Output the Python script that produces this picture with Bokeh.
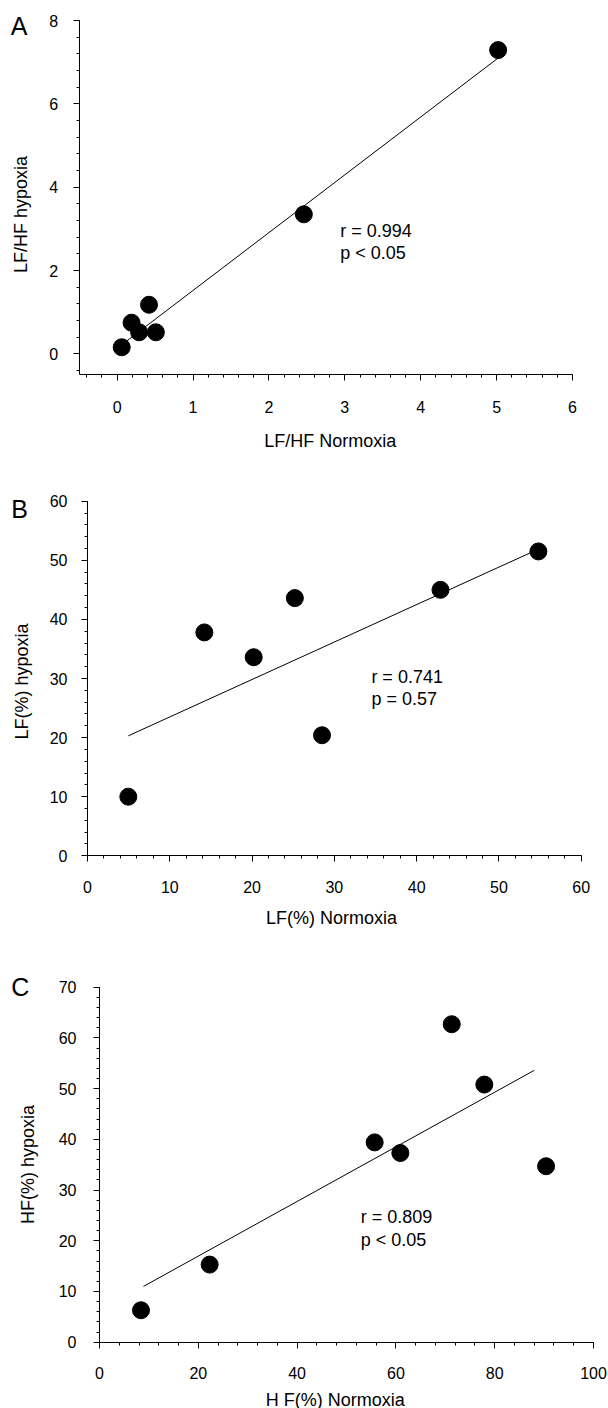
import numpy as np
from bokeh.plotting import figure
from bokeh.models import Range1d, FixedTicker, Label
from bokeh.layouts import column
from bokeh.embed import file_html
from bokeh.resources import INLINE

# ---------------- data ----------------
# Panel A: LF/HF
a_norm = [0.06, 0.19, 0.29, 0.42, 0.51, 2.46, 5.02]
a_hyp = [0.16, 0.75, 0.52, 1.18, 0.52, 3.35, 7.29]
a_fit_x = [0.06, 5.02]
a_fit_y = [0.22, 7.10]
a_stats = ["r = 0.994", "p < 0.05"]

# Panel B: LF(%)
b_norm = [4.96, 14.2, 20.2, 25.2, 28.5, 42.9, 54.8]
b_hyp = [10.0, 37.8, 33.6, 43.6, 20.4, 45.0, 51.5]
b_fit_x = [4.96, 54.5]
b_fit_y = [20.3, 51.7]
b_stats = ["r = 0.741", "p = 0.57"]

# Panel C: HF(%)
c_norm = [8.4, 22.3, 55.7, 60.9, 71.3, 77.9, 90.4]
c_hyp = [6.3, 15.3, 39.4, 37.3, 62.7, 50.8, 34.7]
c_fit_x = [8.9, 88.0]
c_fit_y = [11.0, 53.6]
c_stats = ["r = 0.809", "p < 0.05"]

a_xticks = [0, 1, 2, 3, 4, 5, 6]
a_yticks = [0, 2, 4, 6, 8]
b_xticks = [0, 10, 20, 30, 40, 50, 60]
b_yticks = [0, 10, 20, 30, 40, 50, 60]
c_xticks = [0, 20, 40, 60, 80, 100]
c_yticks = [0, 10, 20, 30, 40, 50, 60, 70]

FONT = "Liberation Sans"
W = 608


class Panel:
    """A figure whose frame fills the canvas; axes are pinned with fixed_location."""

    def __init__(self, top, height, xax, yax, xt, yt, xminor, yminor, xstand, ystand):
        # xax = (v0, v1, px0, px1) ; yax = (vtop, vbot, pytop, pybot)  (page pixels)
        v0, v1, px0, px1 = xax
        kx = (v1 - v0) / (px1 - px0)
        xs, xe = v0 - px0 * kx, v1 + (W - px1) * kx
        vt, vb, pyt, pyb = yax
        fyt, fyb = pyt - top, pyb - top
        ky = (vt - vb) / (fyb - fyt)
        ye, ys = vt + fyt * ky, vb - (height - fyb) * ky
        self.top, self.kx, self.ky, self.xs, self.ye = top, kx, ky, xs, ye
        p = figure(width=W, height=height, output_backend="svg", toolbar_location=None,
                   title=None, x_range=Range1d(xs, xe), y_range=Range1d(ys, ye),
                   min_border=0, min_border_left=0, min_border_right=0,
                   min_border_top=0, min_border_bottom=0)
        p.xgrid.visible = False
        p.ygrid.visible = False
        p.outline_line_color = None
        p.background_fill_color = "white"
        p.border_fill_color = "white"
        p.xaxis.ticker = FixedTicker(ticks=xt, minor_ticks=list(xminor))
        p.yaxis.ticker = FixedTicker(ticks=yt, minor_ticks=list(yminor))
        p.xaxis.fixed_location = vb
        p.yaxis.fixed_location = v0
        p.xaxis.bounds = (v0, v1)
        p.yaxis.bounds = (vb, vt)
        for ax in (p.xaxis[0], p.yaxis[0]):
            ax.axis_line_color = "black"
            ax.axis_line_width = 1
            ax.major_tick_line_color = "black"
            ax.minor_tick_line_color = "black"
            ax.major_tick_out = 6
            ax.major_tick_in = 0
            ax.minor_tick_out = 3
            ax.minor_tick_in = 0
            ax.major_label_text_font = FONT
            ax.major_label_text_font_size = "16px"
            ax.major_label_text_color = "black"
        p.xaxis.major_label_standoff = xstand
        p.yaxis.major_label_standoff = ystand
        self.p = p

    def text(self, px, py, text, size, angle=0.0):
        x = self.xs + px * self.kx
        y = self.ye - (py - self.top) * self.ky
        self.p.add_layout(Label(x=x, y=y, text=text, text_font=FONT, text_font_size=size,
                                text_color="black", text_align="center",
                                text_baseline="middle", angle=angle))

    def stats(self, x, ys, texts):
        for yv, t in zip(ys, texts):
            self.p.add_layout(Label(x=x, y=yv, text=t, text_font=FONT, text_font_size="18px",
                                    text_color="black", text_align="left",
                                    text_baseline="middle"))

    def draw(self, xs, ys, fx, fy):
        self.p.line(fx, fy, line_color="black", line_width=1)
        self.p.scatter(xs, ys, size=17, marker="circle", fill_color="black",
                       line_color="black")


# ---------- Panel A ----------
topA, hA = 0, 478
A = Panel(topA, hA, (-0.5, 6, 78.7, 572), (8, -0.5, 20, 374.3), a_xticks, a_yticks,
          np.arange(-0.4, 6.001, 0.2), np.arange(-0.4, 8.001, 0.4), 20, 15)
A.draw(a_norm, a_hyp, a_fit_x, a_fit_y)
A.stats(2.94, [2.96, 2.42], a_stats)
A.text(18.5, 25, "A", "25px")
A.text(20, 214, "LF/HF hypoxia", "18px", angle=np.pi / 2)
A.text(329.7, 440.5, "LF/HF Normoxia", "18px")

# ---------- Panel B ----------
topB, hB = 478, 468
B = Panel(topB, hB, (0, 60, 87, 580.7), (60, 0, 500.7, 855.3), b_xticks, b_yticks,
          np.arange(0, 60.001, 2), np.arange(0, 60.001, 2), 19, 14)
B.draw(b_norm, b_hyp, b_fit_x, b_fit_y)
B.stats(34.5, [30.3, 26.6], b_stats)
B.text(19, 508, "B", "25px")
B.text(21, 681, "LF(%) hypoxia", "18px", angle=np.pi / 2)
B.text(331, 917.5, "LF(%) Normoxia", "18px")

# ---------- Panel C ----------
topC, hC = 946, 462
C = Panel(topC, hC, (0, 100, 99, 593), (70, 0, 986.7, 1341.7), c_xticks, c_yticks,
          np.arange(0, 100.001, 4), np.arange(0, 70.001, 2), 19, 17)
C.draw(c_norm, c_hyp, c_fit_x, c_fit_y)
C.stats(52.9, [24.65, 20.06], c_stats)
C.text(19.7, 986.5, "C", "25px")
C.text(27, 1164, "HF(%) hypoxia", "18px", angle=np.pi / 2)
C.text(334.7, 1399, "H F(%) Normoxia", "18px")

layout = column(A.p, B.p, C.p, spacing=0)
open("out.html", "w").write(file_html(layout, INLINE))
